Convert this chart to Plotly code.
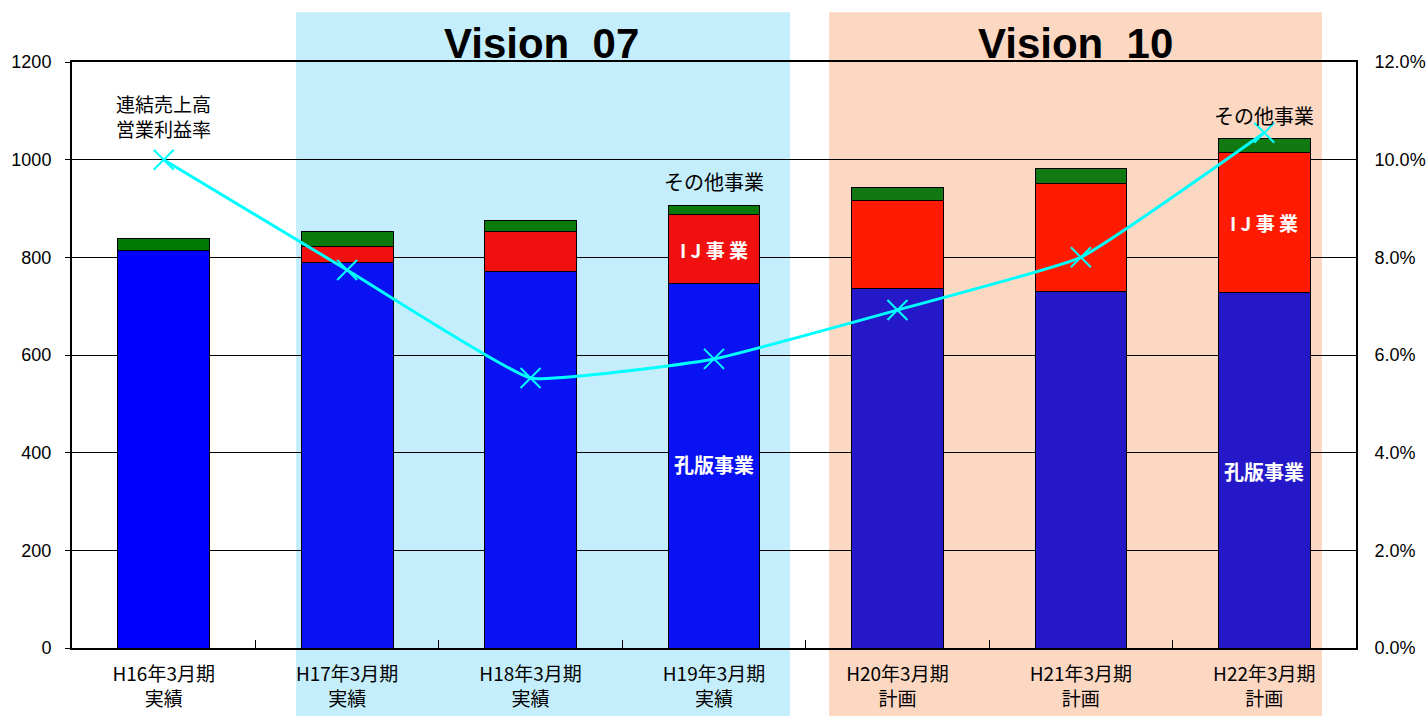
import plotly.graph_objects as go

categories = ["H16年3月期<br>実績", "H17年3月期<br>実績", "H18年3月期<br>実績", "H19年3月期<br>実績",
              "H20年3月期<br>計画", "H21年3月期<br>計画", "H22年3月期<br>計画"]
koban = [813, 790, 772, 747, 737, 731, 727]          # 孔版事業
ij = [0, 33, 80, 140, 180, 221, 287]                 # IJ事業
other = [25, 29, 24, 20, 25, 29, 30]                 # その他事業
margin_rate = [0.100, 0.0774, 0.0553, 0.0592, 0.0692, 0.080, 0.1055]  # 連結売上高営業利益率

FONT = "Noto Sans CJK JP"
NUMFONT = "Liberation Sans, Arial"
blue_cols = ["#0000ff", "#0812f2", "#0812f2", "#0812f2", "#2418c8", "#2418c8", "#2418c8"]
red_cols = ["#ff0000", "#f01010", "#f01010", "#f01010", "#ff1a00", "#ff1a00", "#ff1a00"]
green_cols = ["#007a00", "#0a7a0a", "#0a7a0a", "#0a7a0a", "#127812", "#127812", "#127812"]

fig = go.Figure()
edge = dict(color="black", width=1)
fig.add_trace(go.Bar(x=categories, y=koban, name="孔版事業", marker=dict(color=blue_cols, line=edge)))
fig.add_trace(go.Bar(x=categories, y=ij, name="IJ事業", marker=dict(color=red_cols, line=edge)))
fig.add_trace(go.Bar(x=categories, y=other, name="その他事業", marker=dict(color=green_cols, line=edge)))
fig.add_trace(go.Scatter(x=categories, y=margin_rate, yaxis="y2", mode="lines+markers",
                         name="連結売上高営業利益率",
                         line=dict(color="#00ffff", width=3, shape="spline", smoothing=0.35),
                         marker=dict(symbol="x-thin", size=20, color="#00ffff",
                                     line=dict(color="#00ffff", width=2))))

shapes = [
    dict(type="rect", xref="paper", yref="paper", x0=0.1745, x1=0.5592, y0=-0.13, y1=1.085,
         fillcolor="#c4eefb", line=dict(width=0), layer="below"),
    dict(type="rect", xref="paper", yref="paper", x0=0.5896, x1=0.9735, y0=-0.13, y1=1.085,
         fillcolor="#fcd8c2", line=dict(width=0), layer="below"),
]

ann = []
ann.append(dict(x=0.3653, y=1.0, xref="paper", yref="paper", text="<b>Vision  07</b>", showarrow=False,
                xanchor="center", yanchor="bottom", yshift=-7,
                font=dict(family=NUMFONT, size=42, color="black")))
ann.append(dict(x=0.7812, y=1.0, xref="paper", yref="paper", text="<b>Vision  10</b>", showarrow=False,
                xanchor="center", yanchor="bottom", yshift=-7,
                font=dict(family=NUMFONT, size=42, color="black")))
ann.append(dict(x=categories[0], y=1090, text="連結売上高<br>営業利益率", showarrow=False,
                xanchor="center", font=dict(family=FONT, size=19, color="black")))
ann.append(dict(x=categories[3], y=955, text="その他事業", showarrow=False,
                xanchor="center", font=dict(family=FONT, size=20, color="black")))
ann.append(dict(x=categories[6], y=1090, text="その他事業", showarrow=False,
                xanchor="center", font=dict(family=FONT, size=20, color="black")))
ann.append(dict(x=categories[3], y=817, text="<b>I J 事 業</b>", showarrow=False,
                xanchor="center", font=dict(family=FONT, size=19, color="white")))
ann.append(dict(x=categories[6], y=872, text="<b>I J 事 業</b>", showarrow=False,
                xanchor="center", font=dict(family=FONT, size=19, color="white")))
ann.append(dict(x=categories[3], y=375, text="<b>孔版事業</b>", showarrow=False,
                xanchor="center", font=dict(family=FONT, size=20, color="white")))
ann.append(dict(x=categories[6], y=362, text="<b>孔版事業</b>", showarrow=False,
                xanchor="center", font=dict(family=FONT, size=20, color="white")))

fig.update_layout(
    width=1427, height=716,
    margin=dict(l=72, r=71, t=62, b=68),
    barmode="stack", bargap=0.5,
    showlegend=False,
    paper_bgcolor="white", plot_bgcolor="rgba(0,0,0,0)",
    font=dict(family=FONT, size=18, color="black"),
    shapes=shapes, annotations=ann,
    xaxis=dict(showline=True, linecolor="black", linewidth=2, mirror=True, automargin=False,
               ticks="inside", tickson="boundaries", ticklen=8, tickcolor="black",
               ticklabelstandoff=8,
               tickfont=dict(family=FONT, size=19, color="black")),
    yaxis=dict(range=[0, 1200], dtick=200, showgrid=True, gridcolor="black", gridwidth=1,
               showline=True, linecolor="black", linewidth=2, ticks="outside", ticklen=5,
               tickcolor="black", zeroline=False, ticklabelstandoff=10, automargin=False,
               tickfont=dict(family=NUMFONT, size=18, color="black")),
    yaxis2=dict(range=[0, 0.12], dtick=0.02, tickformat=".1%", overlaying="y", side="right",
                showgrid=False, showline=True, linecolor="black", linewidth=2, ticks="",
                zeroline=False, ticklabelstandoff=13, automargin=False,
                tickfont=dict(family=NUMFONT, size=18, color="black")),
)

post = ("document.body.style.margin='0';document.body.style.overflow='hidden';"
        "document.documentElement.style.overflow='hidden';")
fig.write_html("out.html", post_script=post, config={"displayModeBar": False})
